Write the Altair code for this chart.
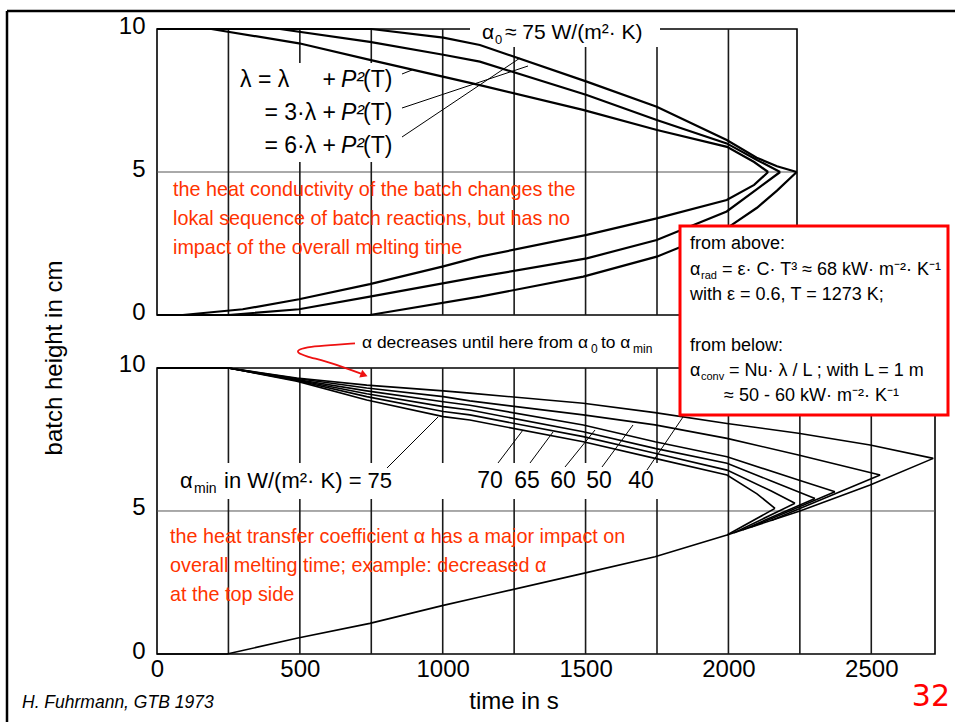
import altair as alt
import pandas as pd

NARROW = "'Liberation Sans Narrow', 'Arial Narrow', 'Liberation Sans', sans-serif"
RED_TXT = "#ff3300"
RED_BOX = "#ff0000"
OX, OY = 157, 29          # page position of the plot origin (layout)
OFFSET = 11.853           # vertical offset of the upper panel in the shared y scale

# ---------------- data ----------------
x_ticks = [0, 500, 1000, 1500, 2000, 2500]
grid_top = [250, 500, 750, 1000, 1250, 1500, 1750, 2000]
grid_bottom = [250, 500, 750, 1000, 1250, 1500, 1750, 2000, 2250, 2500]
top_t_end = 2240
bottom_t_end = 2723

# upper panel: lambda variants, top surface (descending) ...
lam1_top_t = [0, 190, 497, 745, 1130, 1491, 1750, 1995, 2090, 2139]
lam1_top_h = [10, 10, 9.5, 8.92, 8.04, 7.17, 6.47, 5.88, 5.35, 5.0]
lam3_top_t = [0, 430, 745, 1002, 1130, 1504, 1749, 1994, 2100, 2181]
lam3_top_h = [10, 10, 9.55, 9.1, 8.86, 7.69, 6.82, 6.0, 5.42, 5.0]
lam6_top_t = [0, 750, 1002, 1130, 1504, 1749, 1994, 2099, 2170, 2239]
lam6_top_h = [10, 10, 9.7, 9.44, 8.16, 7.28, 6.12, 5.5, 5.2, 5.0]
# ... and bottom surface (ascending)
lam1_bot_t = [0, 90, 300, 497, 745, 1002, 1130, 1504, 1749, 1994, 2090, 2139]
lam1_bot_h = [0, 0, 0.2, 0.55, 1.08, 1.7, 2.04, 2.8, 3.38, 4.02, 4.55, 5.0]
lam3_bot_t = [0, 250, 497, 745, 1130, 1504, 1749, 1994, 2100, 2181]
lam3_bot_h = [0, 0, 0.2, 0.64, 1.34, 1.98, 2.62, 3.62, 4.4, 5.0]
lam6_bot_t = [0, 745, 1130, 1492, 1749, 1994, 2100, 2170, 2239]
lam6_bot_h = [0, 0, 0.64, 1.34, 2.04, 3.03, 3.75, 4.35, 5.0]

# lower panel: alpha_min variants, top surface (descending)
a75_t = [0, 250, 489, 734, 1002, 1095, 1492, 1743, 1995, 2100, 2163]
a75_h = [10, 10, 9.54, 8.88, 8.3, 8.18, 7.42, 6.84, 6.26, 5.6, 5.09]
a70_t = [0, 250, 489, 734, 1002, 1095, 1492, 1743, 1995, 2150, 2233]
a70_h = [10, 10, 9.56, 9.0, 8.48, 8.36, 7.6, 7.02, 6.43, 5.7, 5.27]
a65_t = [0, 250, 489, 734, 1002, 1095, 1492, 1743, 1995, 2150, 2303]
a65_h = [10, 10, 9.58, 9.1, 8.65, 8.53, 7.77, 7.19, 6.67, 6.05, 5.44]
a60_t = [0, 250, 489, 734, 1002, 1095, 1492, 1743, 1995, 2245, 2373]
a60_h = [10, 10, 9.6, 9.2, 8.82, 8.7, 8.01, 7.42, 6.9, 6.08, 5.67]
a50_t = [0, 250, 489, 734, 1002, 1095, 1492, 1743, 1995, 2245, 2531]
a50_h = [10, 10, 9.63, 9.3, 9.0, 8.85, 8.36, 8.01, 7.54, 6.96, 6.26]
a40_t = [0, 250, 489, 734, 1002, 1095, 1492, 1743, 1995, 2245, 2496, 2717]
a40_h = [10, 10, 9.65, 9.4, 9.2, 9.12, 8.77, 8.44, 8.06, 7.72, 7.31, 6.84]
# common bottom surface (ascending) and the short legs to each tip
common_t = [0, 245, 489, 745, 1002, 1130, 1492, 1743, 1995, 2245, 2496, 2717]
common_h = [0, 0, 0.55, 1.07, 1.7, 1.99, 2.82, 3.4, 4.16, 4.98, 5.91, 6.84]
leg75_t, leg75_h = [1995, 2163], [4.16, 5.09]
leg70_t, leg70_h = [2020, 2233], [4.24, 5.27]
leg65_t, leg65_h = [2050, 2303], [4.34, 5.44]
leg60_t, leg60_h = [2080, 2373], [4.44, 5.67]
leg50_t, leg50_h = [2150, 2531], [4.67, 6.26]

# red hand-drawn arrow (time in s, shared y units)
arrow_t = [693, 605, 536, 494, 490, 518, 588, 664, 718]
arrow_y = [10.86, 10.80, 10.75, 10.65, 10.54, 10.42, 10.24, 9.99, 9.79]

# ---------------- tables ----------------
rows = []
def add(panel, key, ts, hs):
    for t, h in zip(ts, hs):
        rows.append({"panel": panel, "key": key, "t": t, "h": h})

add("top", "l1u", lam1_top_t, lam1_top_h)
add("top", "l3u", lam3_top_t, lam3_top_h)
add("top", "l6u", lam6_top_t, lam6_top_h)
add("top", "l1b", lam1_bot_t, lam1_bot_h)
add("top", "l3b", lam3_bot_t, lam3_bot_h)
add("top", "l6b", lam6_bot_t, lam6_bot_h)
add("bottom", "a75", a75_t, a75_h)
add("bottom", "a70", a70_t, a70_h)
add("bottom", "a65", a65_t, a65_h)
add("bottom", "a60", a60_t, a60_h)
add("bottom", "a50", a50_t, a50_h)
add("bottom", "a40", a40_t, a40_h)
add("bottom", "common", common_t, common_h)
add("bottom", "g75", leg75_t, leg75_h)
add("bottom", "g70", leg70_t, leg70_h)
add("bottom", "g65", leg65_t, leg65_h)
add("bottom", "g60", leg60_t, leg60_h)
add("bottom", "g50", leg50_t, leg50_h)
curves = pd.DataFrame(rows)

grid = pd.DataFrame(
    [{"t": t, "y0": OFFSET, "y1": OFFSET + 10} for t in grid_top]
    + [{"t": t, "y0": 0, "y1": 10} for t in grid_bottom]
)
frames = pd.DataFrame([
    {"t0": 0, "t1": top_t_end, "y0": OFFSET, "y1": OFFSET + 10, "ym": OFFSET + 5},
    {"t0": 0, "t1": bottom_t_end, "y0": 0, "y1": 10, "ym": 5},
])
arrow = pd.DataFrame({"i": list(range(len(arrow_t))), "t": arrow_t, "y": arrow_y})
arrow_head = pd.DataFrame({"t": [725], "y": [9.76]})

# ---------------- scales / axes ----------------
XS = alt.Scale(domain=[0, bottom_t_end], nice=False, zero=False)
YS = alt.Scale(domain=[0, OFFSET + 10], nice=False, zero=False)
XAX = alt.Axis(values=x_ticks, format="d", ticks=False, domain=False, grid=False, labelFontSize=24,
               labelFont=NARROW, labelColor="black", labelPadding=3, labelFlush=False)
YAX = alt.Axis(values=[0, 5, 10, OFFSET, OFFSET + 5, OFFSET + 10],
               labelExpr="datum.value > 11 ? round(datum.value - 11.853) : round(datum.value)",
               ticks=False, domain=False, grid=False, labelFontSize=24, labelFont=NARROW,
               labelColor="black", labelPadding=12, labelOffset=-3)

def X(f):
    return alt.X(f, type="quantitative", scale=XS, axis=XAX, title=None)

def Y(f):
    return alt.Y(f, type="quantitative", scale=YS, axis=YAX, title=None)

# ---------------- helpers for annotations ----------------
ONE = alt.Data(values=[{}])

def txt(s, x, y, size=20, color="black", align="left", font=NARROW, style="normal", angle=0):
    m = dict(text=s, align=align, baseline="middle", fontSize=size, font=font,
             color=color, fontStyle=style)
    if angle:
        m["angle"] = angle
    return alt.Chart(ONE).mark_text(**m).encode(x=alt.value(x - OX), y=alt.value(y - OY))

def seg(x1, y1, x2, y2, color="black", w=1.0):
    return alt.Chart(ONE).mark_rule(color=color, strokeWidth=w).encode(
        x=alt.value(x1 - OX), y=alt.value(y1 - OY), x2=alt.value(x2 - OX), y2=alt.value(y2 - OY))

def box(x1, y1, x2, y2, stroke="white", w=0.0):
    return alt.Chart(ONE).mark_rect(fill="white", stroke=stroke, strokeWidth=w).encode(
        x=alt.value(x1 - OX), y=alt.value(y1 - OY), x2=alt.value(x2 - OX), y2=alt.value(y2 - OY))

# ---------------- layers ----------------
calc = "datum.panel == 'top' ? datum.h + 11.853 : datum.h"

frame_layer = alt.Chart(frames).mark_rect(fillOpacity=0, stroke="black", strokeWidth=1.6).encode(
    x=X("t0"), x2="t1", y=Y("y0"), y2="y1")
mid_layer = alt.Chart(frames).mark_rule(color="#555555", strokeWidth=1).encode(
    x=X("t0"), x2="t1", y=Y("ym"))
grid_layer = alt.Chart(grid).mark_rule(color="#1a1a1a", strokeWidth=1.6).encode(
    x=X("t"), y=Y("y0"), y2="y1")

top_lines = alt.Chart(curves).transform_filter("datum.panel == 'top'").transform_calculate(
    yc=calc).mark_line(color="black", strokeWidth=2.2).encode(x=X("t"), y=Y("yc"), detail="key:N")
bot_lines = alt.Chart(curves).transform_filter("datum.panel == 'bottom'").transform_calculate(
    yc=calc).mark_line(color="black", strokeWidth=1.6).encode(x=X("t"), y=Y("yc"), detail="key:N")

arrow_line = alt.Chart(arrow).mark_line(color="#ee1111", strokeWidth=1.8, interpolate="basis").encode(
    x=X("t"), y=Y("y"), order="i:Q")
arrow_tip = alt.Chart(arrow_head).mark_point(shape="triangle-right", filled=True, size=70,
                                             angle=21, color="#ee1111", opacity=1).encode(
    x=X("t"), y=Y("y"))

RT = 19.8   # red text size
BT = 18     # info box text size

layers = [
    frame_layer, mid_layer, grid_layer,
    # white label backgrounds
    box(470, 16, 660, 47), box(235, 63, 402, 162), box(175, 463, 660, 499),
    top_lines, bot_lines,
    # red info box
    box(680, 226, 948, 415, stroke=RED_BOX, w=3),
    # leader lines upper panel
    seg(402, 74, 412, 70), seg(402, 108, 528, 66), seg(402, 137, 520, 58),
    # leader lines lower panel
    seg(387, 468, 438, 417), seg(498, 463, 523, 430), seg(530, 463, 553, 432),
    seg(565, 467, 595, 430), seg(602, 467, 633, 425), seg(647, 470, 683, 417),
    arrow_line, arrow_tip,
    # slide border
    seg(7, 11, 955, 11, w=2.5), seg(7, 11, 7, 722, w=2.5),
    # upper panel labels
    txt("α", 482, 33, 21), txt("0", 495, 40, 13), txt("≈ 75 W/(m²· K)", 505, 33, 21),
    txt("λ = λ", 240, 80, 23), txt("+", 336, 80, 23, align="right"),
    txt("= 3·λ +", 336, 113, 23, align="right"), txt("= 6·λ +", 336, 146, 23, align="right"),
    txt("P²", 341, 80, 23, style="italic"), txt("P²", 341, 113, 23, style="italic"),
    txt("P²", 341, 146, 23, style="italic"),
    txt("(T)", 363, 80, 23), txt("(T)", 363, 113, 23), txt("(T)", 363, 146, 23),
    txt("the heat conductivity of the batch changes the", 173, 190, RT, RED_TXT),
    txt("lokal sequence of batch reactions, but has no", 173, 219, RT, RED_TXT),
    txt("impact of the overall melting time", 173, 248, RT, RED_TXT),
    # lower panel labels
    txt("α decreases until here from α", 362, 343, 17.4), txt("0", 591, 349, 12),
    txt("to α", 601, 343, 17.4), txt("min", 633, 349, 12),
    txt("α", 180, 481, 22), txt("min", 194, 489, 14), txt("in W/(m²· K) = 75", 224, 481, 22),
    txt("70", 490, 481, 23, align="center"), txt("65", 527, 481, 23, align="center"),
    txt("60", 563, 481, 23, align="center"), txt("50", 599, 481, 23, align="center"),
    txt("40", 641, 481, 23, align="center"),
    txt("the heat transfer coefficient α has a major impact on", 170, 537, RT, RED_TXT),
    txt("overall melting time; example: decreased α", 170, 566, RT, RED_TXT),
    txt("at the top side", 170, 595, RT, RED_TXT),
    # info box text
    txt("from above:", 690, 244, BT),
    txt("α", 690, 270, BT), txt("rad", 701, 276, 11), txt("= ε· C· T³ ≈ 68 kW· m⁻²· K⁻¹", 722, 270, BT),
    txt("with ε = 0.6, T = 1273 K;", 690, 295, BT),
    txt("from below:", 690, 346, BT),
    txt("α", 690, 371, BT), txt("conv", 701, 377, 11), txt("= Nu· λ / L ; with L = 1 m", 729, 371, BT),
    txt("≈ 50 - 60 kW· m⁻²· K⁻¹", 724, 396, BT),
    # titles and footer
    txt("batch height  in cm", 55, 358, 24, align="center", angle=270),
    txt("time in s", 514, 702, 24, align="center"),
    txt("H. Fuhrmann, GTB 1973", 22, 703, 17.5, style="italic"),
    txt("32", 950, 697, 30, color=RED_BOX, align="right", font="DejaVu Sans"),
]

chart = alt.layer(*layers).properties(
    width=778, height=625,
    padding={"left": OX, "top": OY, "right": 20, "bottom": 68},
    autosize=alt.AutoSizeParams(type="none"),
    background="white",
).configure_view(strokeWidth=0)

chart.save("out.html", embed_options={"renderer": "svg", "actions": False})
